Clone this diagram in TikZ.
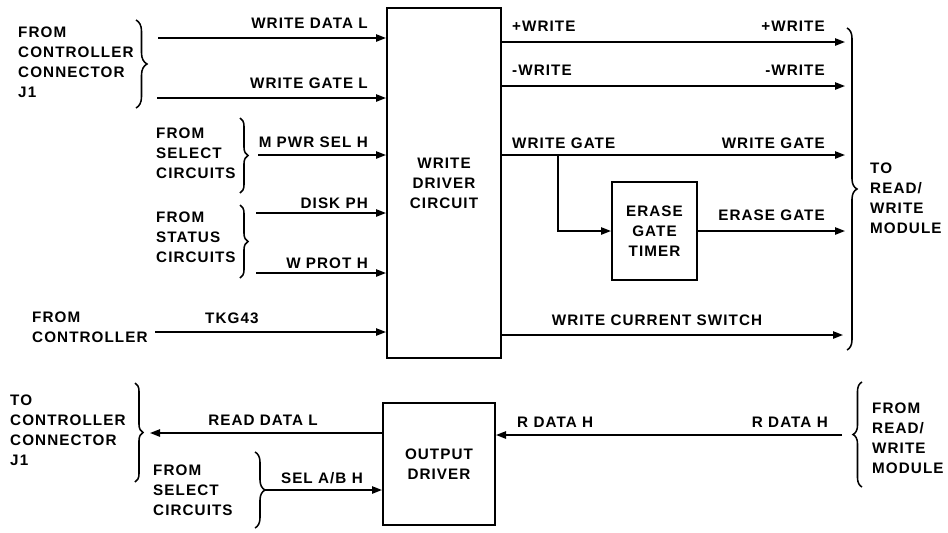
\documentclass[tikz,border=0pt]{standalone}
\usepackage{fontspec}
\setmainfont{Liberation Sans}[LetterSpace=7]
\usetikzlibrary{arrows.meta,decorations.pathreplacing}
\newcommand{\sigfont}{\fontsize{13}{17}\selectfont\bfseries}
\begin{document}
\begin{tikzpicture}[x=0.3mm, y=-0.3mm, >={Triangle[length=3mm,width=2.2mm]},
  every node/.style={font=\sigfont, inner sep=0pt},
  sig/.style={->, line width=1.3pt},
  blk/.style={draw, line width=1.7pt, align=center},
  brc/.style={decorate, decoration={brace, amplitude=#1}, line width=1.3pt},
  lbl/.style={align=left, anchor=north west}]
\useasboundingbox (0,0) rectangle (948,532);
% blocks
\node[blk, minimum width=34.2mm, minimum height=105mm] (wdc) at (444,183) {WRITE\\DRIVER\\CIRCUIT};
\node[blk, minimum width=25.5mm, minimum height=29.4mm] (egt) at (654.5,231) {ERASE\\GATE\\TIMER};
\node[blk, minimum width=33.6mm, minimum height=36.6mm] (od) at (439,464) {OUTPUT\\DRIVER};
% inputs to write driver
\coordinate (wdat) at (158,38);
\coordinate (wgat) at (157,98);
\coordinate (mpwr) at (258,155);
\coordinate (dskp) at (256,213);
\coordinate (wprt) at (256,273);
\coordinate (tkg) at (155,332);
\draw[sig] (wdat) -- (wdat -| wdc.west);
\draw[sig] (wgat) -- (wgat -| wdc.west);
\draw[sig] (mpwr) -- (mpwr -| wdc.west);
\draw[sig] (dskp) -- (dskp -| wdc.west);
\draw[sig] (wprt) -- (wprt -| wdc.west);
\draw[sig] (tkg) -- (tkg -| wdc.west);
\node[anchor=base east] (lwdat) at (368,28.5) {WRITE DATA L};
\node[anchor=base east] (lwgat) at (368,88) {WRITE GATE L};
\node[anchor=base east] (lmpwr) at (368,147) {M PWR SEL H};
\node[anchor=base east] (ldskp) at (368,208) {DISK PH};
\node[anchor=base east] (lwprt) at (368,268) {W PROT H};
\node[anchor=base west] (ltkg) at (205,323) {TKG43};
% outputs to read/write module
\coordinate (pwr) at (845,42);
\coordinate (mwr) at (845,86);
\coordinate (wg) at (845,155);
\coordinate (eg) at (845,231);
\coordinate (wcs) at (843,335);
\coordinate (brn) at (558,155);
\draw[sig] (pwr -| wdc.east) -- (pwr);
\draw[sig] (mwr -| wdc.east) -- (mwr);
\draw[sig] (wg -| wdc.east) -- (wg);
\draw[sig] (brn) |- (egt.west);
\draw[sig] (egt.east) -- (eg);
\draw[sig] (wcs -| wdc.east) -- (wcs);
\node[anchor=base west] (lpwa) at (512,31) {+WRITE};
\node[anchor=base east] (lpwb) at (825,31) {+WRITE};
\node[anchor=base west] (lmwa) at (512,75) {-WRITE};
\node[anchor=base east] (lmwb) at (825,75) {-WRITE};
\node[anchor=base west] (lwga) at (512,148) {WRITE GATE};
\node[anchor=base east] (lwgb) at (825,148) {WRITE GATE};
\node[anchor=base east] (leg) at (825,220) {ERASE GATE};
\node[anchor=base] (lwcs) at (657,325) {WRITE CURRENT SWITCH};
% read path
\coordinate (rdl) at (150,433);
\coordinate (sab) at (265,490);
\coordinate (rdh) at (842,435);
\draw[sig] (od.west |- rdl) -- (rdl);
\draw[sig] (sab) -- (sab -| od.west);
\draw[sig] (rdh) -- (rdh -| od.east);
\node[anchor=base] (lrdl) at (263,425) {READ DATA L};
\node[anchor=base east] (lsab) at (363,483) {SEL A/B H};
\node[anchor=base west] (lrdha) at (517,427) {R DATA H};
\node[anchor=base east] (lrdhb) at (828,427) {R DATA H};
% sources and destinations
\node[lbl] (fcc) at (18,27) {FROM\\CONTROLLER\\CONNECTOR\\J1};
\node[lbl] (fsel) at (156,128) {FROM\\SELECT\\CIRCUITS};
\node[lbl] (fsta) at (156,212) {FROM\\STATUS\\CIRCUITS};
\node[lbl] (fctl) at (32,312) {FROM\\CONTROLLER};
\node[lbl] (tcc) at (10,395) {TO\\CONTROLLER\\CONNECTOR\\J1};
\node[lbl] (fselb) at (153,465) {FROM\\SELECT\\CIRCUITS};
\node[lbl] (trw) at (870,163) {TO\\READ/\\WRITE\\MODULE};
\node[lbl] (frw) at (872,403) {FROM\\READ/\\WRITE\\MODULE};
% braces
\draw[brc=3.3mm] (136,20) -- (136,108);
\draw[brc=2.4mm] (240,118) -- (240,193);
\draw[brc=2.4mm] (240,205) -- (240,278);
\draw[brc=3mm] (847,28) -- (847,350);
\draw[brc=2.4mm] (135,383) -- (135,482);
\draw[brc=3mm] (255,452) -- (255,528);
\draw[brc=2.7mm] (862,487) -- (862,382);
\end{tikzpicture}
\end{document}
